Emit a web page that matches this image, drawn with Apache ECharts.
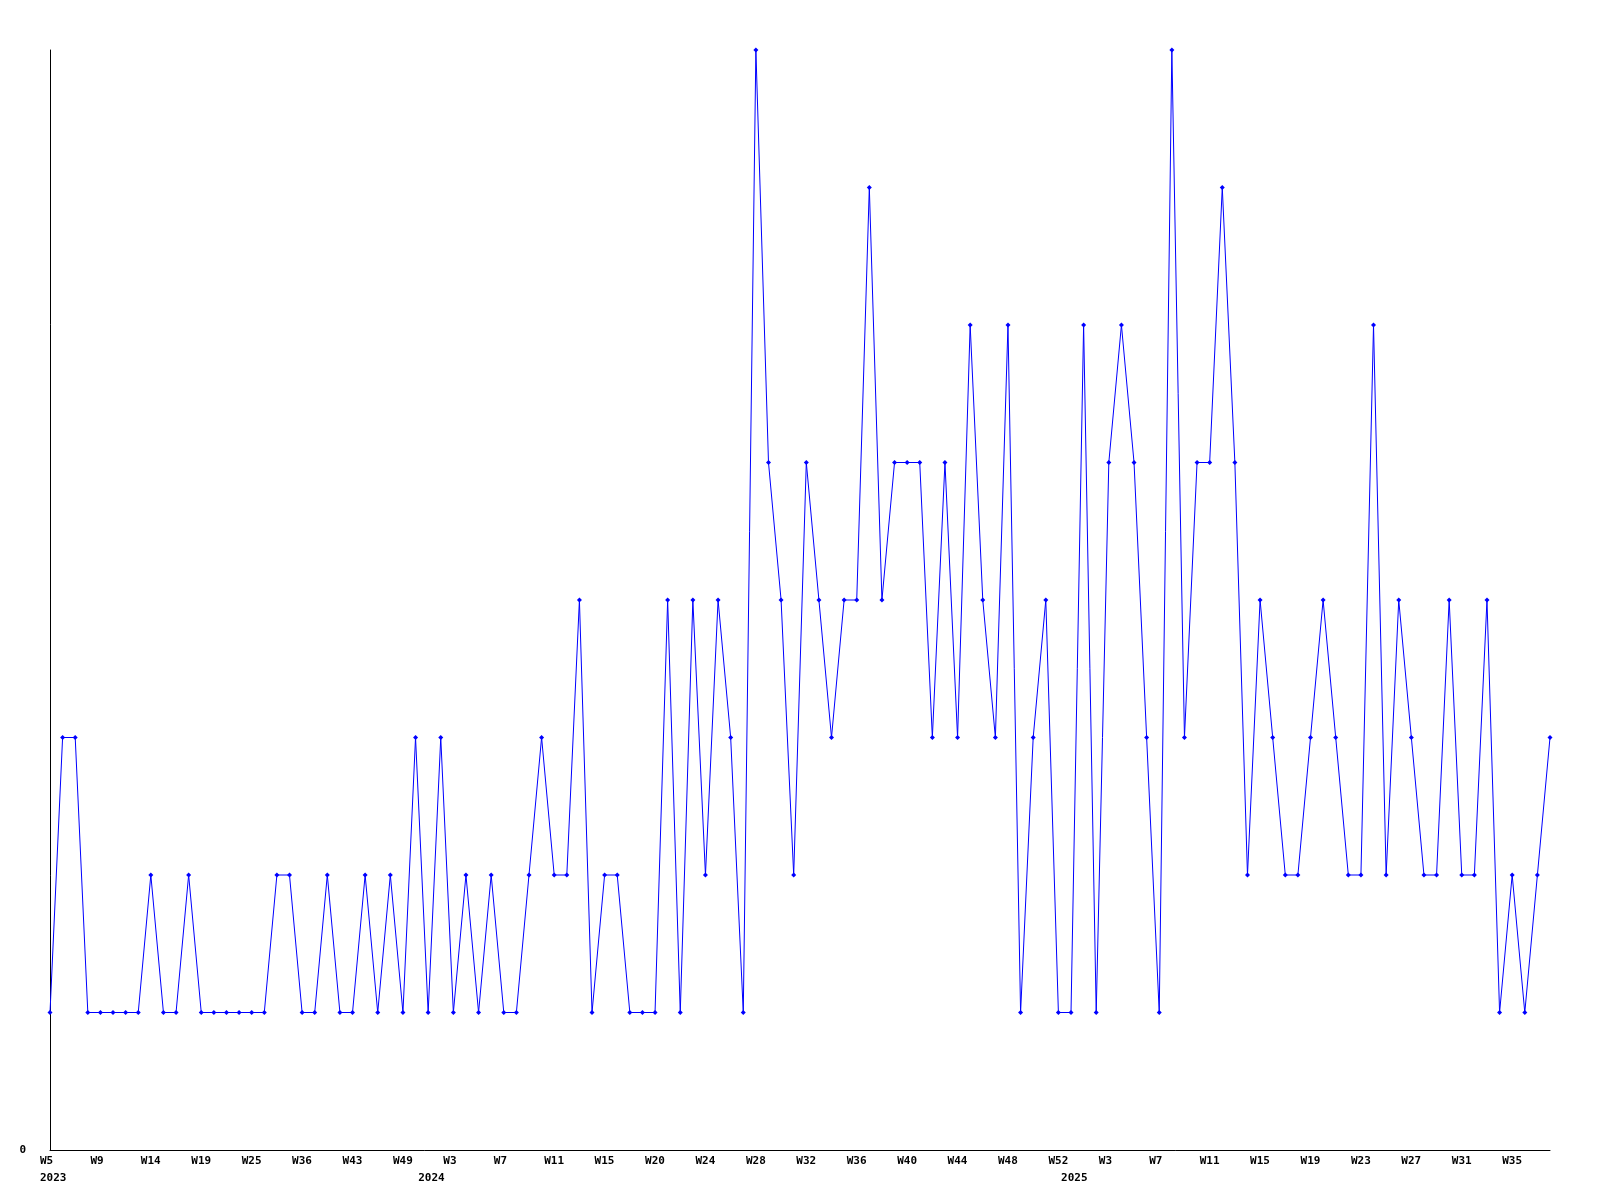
<!DOCTYPE html>
<html>
<head>
<meta charset="utf-8">
<script src="https://cdn.jsdelivr.net/npm/echarts@6/dist/echarts.min.js"></script>
<style>
html,body{margin:0;padding:0;background:#fff;}
#chart{width:1600px;height:1200px;}
</style>
</head>
<body>
<div id="chart"></div>
<script>
// Week labels per year (only weeks that have data)
const weeks2023 = ['W5','W6','W7','W8','W9','W10','W11','W12','W14','W15','W16','W17','W19','W20','W21','W22','W25','W26','W28','W33','W36','W37','W38','W40','W43','W44','W45','W47','W49','W51'];
const weeks2024 = ['W1','W2','W3','W4','W5','W6','W7','W8','W9','W10','W11','W12','W13','W14','W15','W16','W17','W18','W20','W21','W22','W23','W24','W25','W26','W27','W28','W29','W30','W31','W32','W33','W34','W35','W36','W37','W38','W39','W40','W41','W42','W43','W44','W45','W46','W47','W48','W49','W50','W51','W52'];
const weeks2025 = ['W0','W1','W2','W3','W4','W5','W6','W7','W8','W9','W10','W11','W12','W13','W14','W15','W16','W17','W18','W19','W20','W21','W22','W23','W24','W25','W26','W27','W28','W29','W30','W31','W32','W33','W34','W35','W36','W37','W38'];
const yearNames = ['2023','2024','2025'];

// Counts per week
const counts = [
  1,3,3,1,1,1,1,1,2,1,1,2,1,1,1,1,1,1,2,2,1,1,2,1,1,2,1,2,1,3,
  1,3,1,2,1,2,1,1,2,3,2,2,4,1,2,2,1,1,1,4,1,4,2,4,3,1,8,5,4,2,
  5,4,3,4,4,7,4,5,5,5,3,5,3,6,4,3,6,1,3,4,1,1,6,1,5,6,5,3,
  1,8,3,5,5,7,5,2,4,3,2,2,3,4,3,2,2,6,2,4,3,2,2,4,2,2,4,1,2,1,2,3
];

const weekGroups = [weeks2023, weeks2024, weeks2025];
const categories = [];
const yearStart = {};
weekGroups.forEach((g, gi) => {
  yearStart[categories.length] = yearNames[gi];
  g.forEach(w => categories.push(yearNames[gi] + '-' + w));
});

const font = {fontFamily: 'DejaVu Sans Mono', fontWeight: 'bold', fontSize: 11, color: '#000'};

const chart = echarts.init(document.getElementById('chart'), null, {renderer: 'canvas'});
chart.setOption({
  animation: false,
  backgroundColor: '#fff',
  grid: {left: 50, right: 50, top: 50, bottom: 50, containLabel: false},
  xAxis: [{
    type: 'category',
    data: categories,
    boundaryGap: false,
    axisLine: {lineStyle: {color: '#000', width: 1}},
    axisTick: {show: false},
    splitLine: {show: false},
    axisLabel: Object.assign({
      interval: 3,
      margin: 6,
      align: 'left',
      padding: [0, 0, 0, -10],
      formatter: v => v.split('-')[1]
    }, font)
  }, {
    type: 'category',
    data: categories,
    boundaryGap: false,
    position: 'bottom',
    axisLine: {show: false},
    axisTick: {show: false},
    splitLine: {show: false},
    axisLabel: Object.assign({
      interval: (i) => yearStart[i] !== undefined,
      margin: 23,
      align: 'left',
      padding: [0, 0, 0, -10],
      formatter: v => v.split('-')[0]
    }, font)
  }],
  yAxis: {
    type: 'value',
    min: 0,
    max: 8,
    interval: 8,
    axisLine: {show: true, lineStyle: {color: '#000', width: 1}},
    axisTick: {show: false},
    splitLine: {show: false},
    axisLabel: Object.assign({
      margin: 24,
      formatter: v => v === 0 ? '0' : ''
    }, font)
  },
  series: [{
    type: 'line',
    data: counts,
    xAxisIndex: 0,
    symbol: 'diamond',
    symbolSize: 5,
    showAllSymbol: true,
    lineStyle: {color: '#0000ff', width: 1},
    itemStyle: {color: '#0000ff'},
    clip: false
  }]
});
</script>
</body>
</html>
